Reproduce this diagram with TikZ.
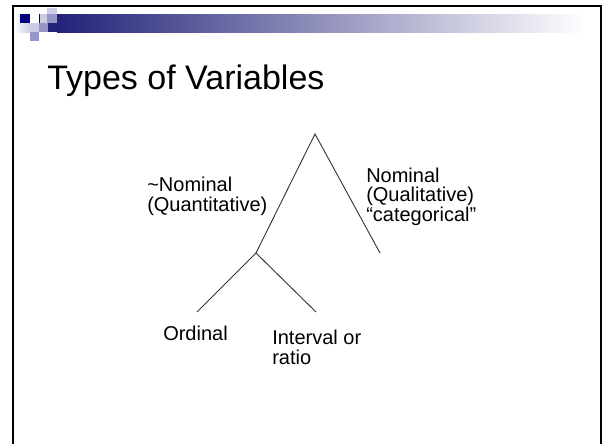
\documentclass[tikz,border=0pt]{standalone}
\usepackage{fontspec}
\setmainfont{Liberation Sans}
\usepackage{xcolor}
\usetikzlibrary{positioning}
\definecolor{headnavy}{RGB}{0,0,128}
\definecolor{headdark}{RGB}{34,34,120}
\definecolor{headmid}{RGB}{150,150,200}
\definecolor{headlight}{RGB}{204,204,230}
\definecolor{headfade}{RGB}{182,182,208}
\definecolor{branchgray}{RGB}{55,55,55}
\tikzset{
  lbl/.style       = {anchor=base west, inner sep=0pt, align=left, font=\fontsize{15}{14.3}\selectfont},
  titletext/.style = {anchor=base west, inner sep=0pt, font=\fontsize{25.5}{30}\selectfont},
  branch/.style    = {line width=0.7pt, branchgray},
  frameline/.style = {line width=1.5pt, black},
}

\begin{document}
\begin{tikzpicture}[x=0.75pt, y=-0.75pt]
\useasboundingbox (0,0) rectangle (602,444);

% slide header
\shade[left color=white, right color=headlight] (14,14) rectangle (30,32);
\shade[left color=headdark, middle color=headfade, right color=white] (57,14) rectangle (585,32);
\fill[headnavy] (20,14) rectangle (30,23);
\fill[headlight] (39,14) rectangle (47,23);
\fill[headnavy] (39,14) rectangle (40,23);
\fill[headlight] (47,8) rectangle (57,14);
\fill[headmid] (47,14) rectangle (57,23);
\fill[headlight] (30,23) rectangle (39,32);
\fill[headmid] (39,23) rectangle (48,32);
\fill[headdark] (48,23) rectangle (57,32);
\fill[headmid] (30,32) rectangle (39,41);

% slide frame
\draw[frameline] (12.5,444) -- (12.5,5.5) -- (601,5.5) -- (601,444);

% title
\node[titletext] (title) at (47,89) {Types of Variables};

% tree
\coordinate (top) at (315,134);
\coordinate (fork) at (256,253);
\coordinate (qualend) at (380,253);
\coordinate (ordend) at (197,312);
\coordinate (intend) at (316,312);

\draw[branch] (fork) -- (top) -- (qualend);
\draw[branch] (ordend) -- (fork) -- (intend);

% labels (base = last line)
\node[lbl] (quant) at (147,211) {\textasciitilde Nominal\\(Quantitative)};
\node[lbl] (qual) at (366,221) {Nominal\\(Qualitative)\\“categorical”};
\node[lbl] (ordinal) at (163,340) {Ordinal};
\node[lbl] (interval) at (272,364) {Interval or\\ratio};

\end{tikzpicture}
\end{document}
